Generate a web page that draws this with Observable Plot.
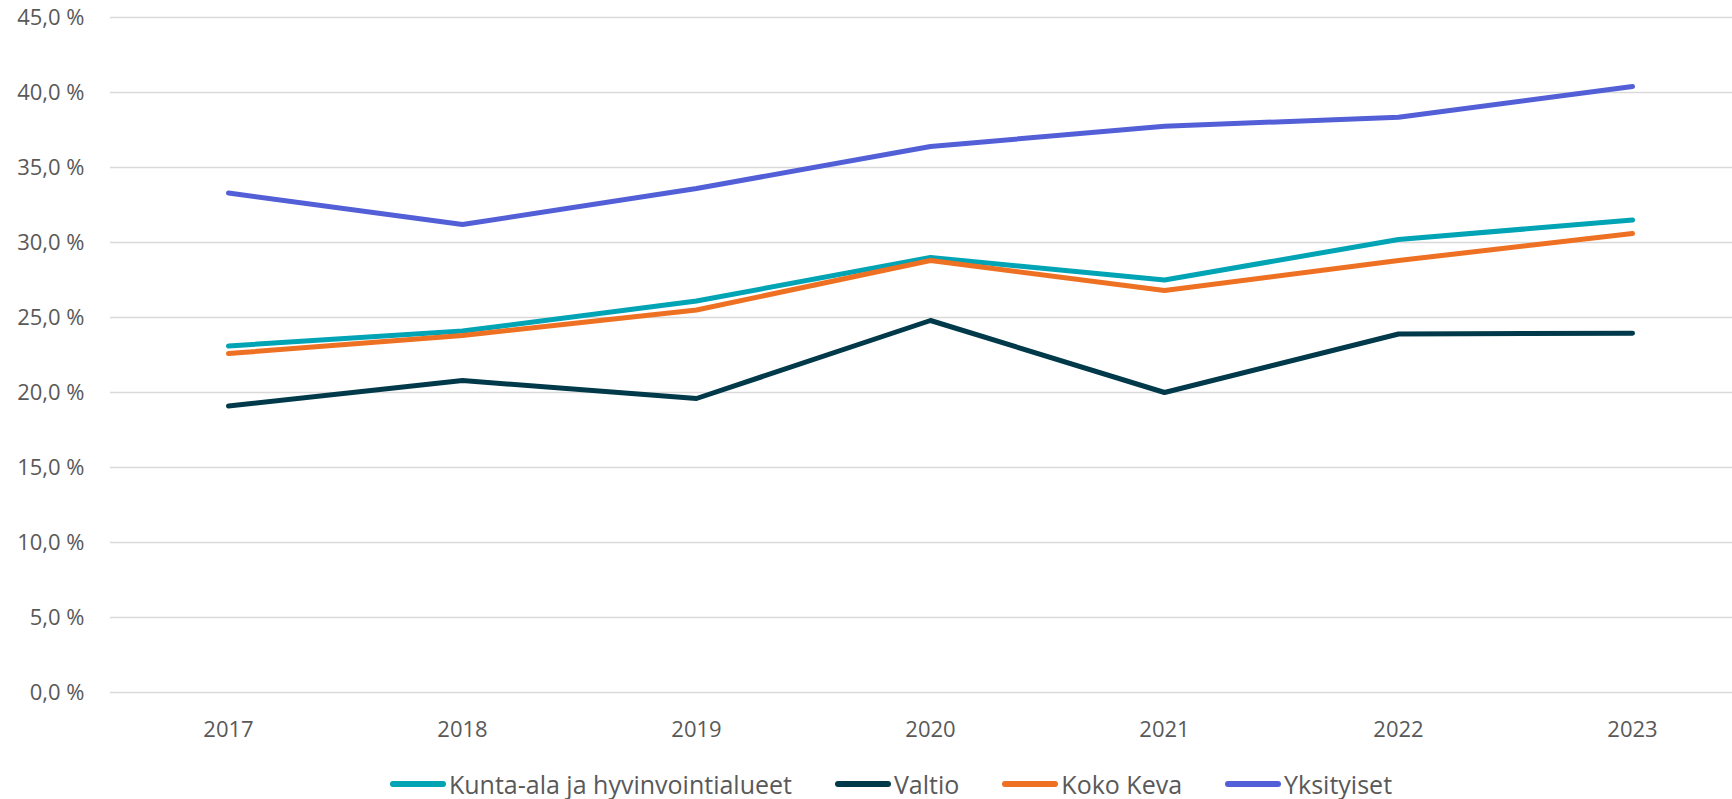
<!DOCTYPE html>
<html>
<head>
<meta charset="utf-8">
<script src="https://cdn.jsdelivr.net/npm/d3@7"></script>
<script src="https://cdn.jsdelivr.net/npm/@observablehq/plot@0.6"></script>
<style>
  html, body { margin: 0; padding: 0; background: #fff; overflow: hidden; }
  #chart svg { display: block; }
  #legend {
    height: 48px; display: flex; align-items: center; justify-content: center;
    padding-left: 50px;
    font-family: "Open Sans", sans-serif; font-size: 25px; color: #595959;
  }
  .item { display: flex; align-items: center; margin: 0 21.5px; white-space: nowrap; }
  .sw { width: 56px; height: 6px; border-radius: 3px; margin-right: 3px; }
</style>
</head>
<body>
<div id="chart"></div>
<div id="legend"></div>
<script>
const years = [2017, 2018, 2019, 2020, 2021, 2022, 2023];
const seriesNames = ["Kunta-ala ja hyvinvointialueet", "Valtio", "Koko Keva", "Yksityiset"];
const seriesColors = ["#00A4B4", "#003A4A", "#EE7022", "#525FD7"];
const kunta = [23.1, 24.1, 26.1, 29.0, 27.5, 30.2, 31.5];
const valtio = [19.1, 20.8, 19.6, 24.8, 20.0, 23.9, 23.95];
const kokoKeva = [22.6, 23.8, 25.5, 28.8, 26.8, 28.8, 30.6];
const yksityiset = [33.3, 31.2, 33.6, 36.4, 37.75, 38.35, 40.4];
const yTicks = [0, 5, 10, 15, 20, 25, 30, 35, 40, 45];

const seriesValues = [kunta, valtio, kokoKeva, yksityiset];
const data = seriesNames.flatMap((name, i) =>
  years.map((year, j) => ({ series: name, year, value: seriesValues[i][j] }))
);

const fmt = d => d.toFixed(1).replace(".", ",") + " %";

const chart = Plot.plot({
  width: 1732,
  height: 760,
  marginTop: 17,
  marginBottom: 68,
  marginLeft: 110,
  marginRight: 0,
  style: { fontFamily: "'Open Sans', sans-serif", fontSize: "22px", color: "#595959", background: "#fff" },
  x: { type: "point", domain: years, range: [227, 1633], padding: 0, label: null },
  y: { domain: [0, 45], label: null },
  color: { domain: seriesNames, range: seriesColors },
  marks: [
    Plot.ruleY(yTicks, { stroke: "#D9D9D9", strokeWidth: 1.5 }),
    Plot.axisY(yTicks, { tickSize: 0, tickPadding: 26, tickFormat: fmt, fill: "#595959", label: null }),
    Plot.axisX(years, { tickSize: 0, tickPadding: 29, tickFormat: d => String(d), fill: "#595959", label: null }),
    Plot.line(data, {
      x: "year", y: "value", z: "series", stroke: "series",
      strokeWidth: 5, strokeLinecap: "round", strokeLinejoin: "round"
    })
  ]
});
document.getElementById("chart").appendChild(chart);

const legend = document.getElementById("legend");
seriesNames.forEach((name, i) => {
  const item = document.createElement("div");
  item.className = "item";
  const sw = document.createElement("div");
  sw.className = "sw";
  sw.style.background = seriesColors[i];
  const label = document.createElement("span");
  label.textContent = name;
  item.appendChild(sw);
  item.appendChild(label);
  legend.appendChild(item);
});
</script>
</body>
</html>
